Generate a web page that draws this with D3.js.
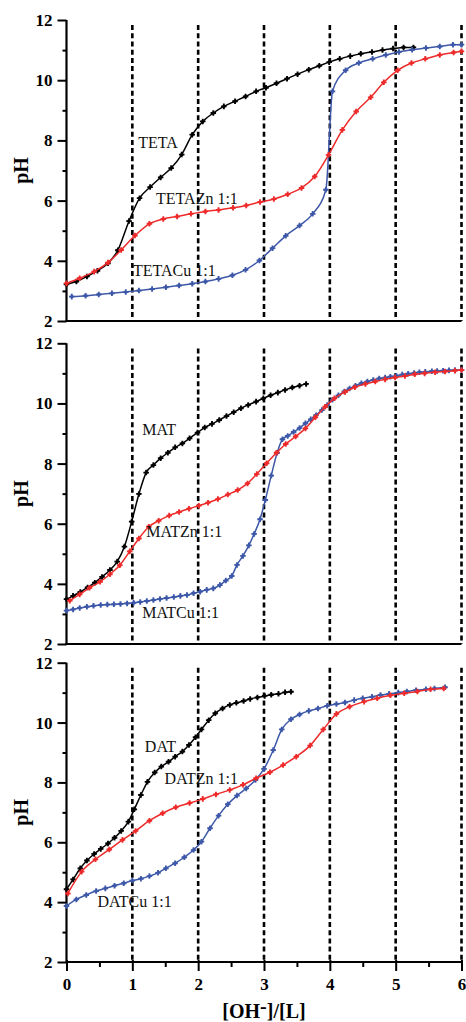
<!DOCTYPE html>
<html><head><meta charset="utf-8">
<script src="https://cdn.jsdelivr.net/npm/d3@7"></script>
<style>body{margin:0;background:#fff}svg{display:block}</style>
</head><body>
<svg id="c" width="466" height="1022"></svg>
<script>
// ---------- DATA ----------
const xTicks = [0,1,2,3,4,5,6];
const yTicks = [2,4,6,8,10,12];
const dashedX = [1,2,3,4,5,6];
const seriesNames = ["TETA","TETAZn 1:1","TETACu 1:1","MAT","MATZn 1:1","MATCu 1:1","DAT","DATZn 1:1","DATCu 1:1"];
const xAxisTitle = "[OH-]/[L]";
const yAxisTitle = "pH";

const tetaX  = [0,0.15,0.31,0.47,0.63,0.78,0.95,1.11,1.27,1.43,1.59,1.75,1.91,2.07,2.23,2.39,2.56,2.72,2.88,3.03,3.19,3.35,3.51,3.68,3.84,3.99,4.15,4.31,4.47,4.64,4.80,4.96,5.12,5.27];
const tetaPH = [3.22,3.31,3.48,3.67,3.92,4.35,5.32,6.08,6.45,6.77,7.08,7.53,8.19,8.63,8.91,9.13,9.30,9.46,9.63,9.75,9.90,10.05,10.20,10.35,10.48,10.60,10.71,10.80,10.88,10.94,11.00,11.05,11.09,11.09];
const tetaZnX  = [0,0.2,0.42,0.63,0.83,1.04,1.26,1.47,1.68,1.89,2.11,2.31,2.53,2.73,2.94,3.15,3.36,3.57,3.77,3.98,4.19,4.40,4.62,4.82,5.03,5.24,5.45,5.67,5.88,6.0];
const tetaZnPH = [3.25,3.42,3.64,3.94,4.36,4.84,5.23,5.39,5.47,5.56,5.64,5.69,5.76,5.84,5.95,6.05,6.21,6.42,6.80,7.52,8.35,8.96,9.43,9.93,10.33,10.57,10.71,10.84,10.92,10.96];
const tetaCuX  = [0.08,0.29,0.49,0.69,0.90,1.10,1.30,1.51,1.71,1.91,2.11,2.31,2.52,2.72,2.93,3.13,3.33,3.54,3.74,3.94,4.04,4.24,4.44,4.65,4.85,5.05,5.25,5.46,5.67,5.87,6.0];
const tetaCuPH = [2.81,2.84,2.88,2.92,2.96,3.01,3.06,3.12,3.18,3.24,3.31,3.40,3.52,3.70,4.01,4.42,4.83,5.17,5.56,6.36,9.63,10.33,10.57,10.71,10.84,10.94,11.01,11.07,11.12,11.18,11.18];

const matX  = [0,0.10,0.21,0.32,0.43,0.54,0.66,0.77,0.88,0.99,1.10,1.21,1.32,1.43,1.54,1.65,1.76,1.87,1.99,2.10,2.21,2.32,2.43,2.54,2.65,2.76,2.88,2.99,3.10,3.21,3.32,3.43,3.54,3.64];
const matPH = [3.49,3.60,3.73,3.88,4.04,4.23,4.46,4.74,5.24,6.07,6.99,7.70,7.95,8.18,8.36,8.54,8.67,8.84,9.03,9.20,9.32,9.45,9.58,9.71,9.84,9.95,10.06,10.17,10.27,10.36,10.45,10.53,10.59,10.65];
const matZnX  = [0.05,0.20,0.35,0.51,0.66,0.81,0.96,1.10,1.25,1.40,1.56,1.71,1.86,2.01,2.15,2.30,2.45,2.60,2.75,2.89,3.04,3.19,3.33,3.48,3.63,3.78,3.93,4.07,4.23,4.38,4.54,4.69,4.84,4.99,5.14,5.29,5.44,5.60,5.75,5.90,6.0];
const matZnPH = [3.44,3.65,3.87,4.07,4.32,4.62,5.08,5.51,5.90,6.10,6.27,6.39,6.50,6.60,6.70,6.82,6.97,7.12,7.34,7.65,8.01,8.36,8.65,8.90,9.17,9.54,9.89,10.17,10.38,10.54,10.65,10.73,10.80,10.86,10.91,10.97,11.00,11.04,11.06,11.09,11.11];
const matCuX  = [0,0.10,0.20,0.31,0.41,0.52,0.62,0.72,0.82,0.92,1.02,1.12,1.22,1.32,1.42,1.52,1.63,1.73,1.83,1.93,2.03,2.13,2.23,2.33,2.42,2.51,2.59,2.68,2.77,2.85,2.94,3.02,3.11,3.20,3.28,3.36,3.45,3.54,3.63,3.71,3.79,3.88,3.96,4.04,4.13,4.22,4.30,4.39,4.48,4.57,4.66,4.75,4.84,4.92,5.01,5.10,5.19,5.28,5.36,5.45,5.55,5.63,5.72,5.81,5.90,6.0];
const matCuPH = [3.11,3.15,3.20,3.24,3.27,3.30,3.31,3.32,3.33,3.35,3.37,3.40,3.43,3.46,3.50,3.53,3.56,3.60,3.63,3.69,3.74,3.80,3.85,3.96,4.11,4.26,4.63,4.93,5.28,5.66,6.15,6.79,7.60,8.36,8.81,8.92,9.05,9.18,9.34,9.47,9.61,9.78,9.95,10.12,10.27,10.40,10.50,10.59,10.67,10.73,10.78,10.83,10.86,10.89,10.92,10.96,10.99,11.01,11.04,11.05,11.07,11.08,11.09,11.10,11.11,11.11];

const datX  = [0,0.10,0.21,0.31,0.42,0.52,0.63,0.73,0.83,0.94,1.03,1.13,1.23,1.34,1.44,1.55,1.65,1.76,1.86,1.96,2.05,2.16,2.26,2.37,2.48,2.58,2.69,2.79,2.90,3.01,3.11,3.22,3.32,3.41];
const datPH = [4.43,4.76,5.13,5.39,5.61,5.78,5.96,6.15,6.38,6.69,7.10,7.58,8.02,8.33,8.53,8.69,8.86,9.03,9.25,9.51,9.77,10.08,10.31,10.47,10.59,10.66,10.72,10.79,10.84,10.89,10.93,10.96,11.01,11.03];
const datZnX  = [0.02,0.23,0.44,0.65,0.85,1.05,1.26,1.46,1.66,1.87,2.07,2.27,2.48,2.68,2.88,3.09,3.29,3.49,3.70,3.90,4.10,4.30,4.52,4.72,4.92,5.13,5.33,5.53,5.73];
const datZnPH = [4.29,5.02,5.43,5.76,6.08,6.38,6.72,6.97,7.17,7.31,7.45,7.60,7.75,7.92,8.14,8.34,8.58,8.86,9.23,9.77,10.29,10.53,10.70,10.81,10.91,10.98,11.04,11.11,11.14];
const datCuX  = [0,0.15,0.30,0.45,0.59,0.73,0.87,1.00,1.13,1.26,1.39,1.51,1.65,1.79,1.93,2.05,2.18,2.31,2.45,2.59,2.73,2.87,3.00,3.14,3.27,3.41,3.54,3.68,3.82,3.96,4.10,4.23,4.37,4.50,4.64,4.77,4.90,5.04,5.17,5.31,5.46,5.59,5.75];
const datCuPH = [3.87,4.09,4.24,4.37,4.46,4.55,4.63,4.72,4.78,4.87,4.98,5.13,5.30,5.50,5.74,6.02,6.47,6.89,7.27,7.56,7.80,8.08,8.45,9.08,9.77,10.11,10.27,10.39,10.47,10.56,10.62,10.67,10.75,10.81,10.86,10.92,10.96,11.00,11.04,11.08,11.11,11.14,11.18];

// label anchor positions in data units [x, pH]
const labelPos = [[1.09,7.76],[1.36,5.89],[1.01,3.50],[1.15,8.95],[1.21,5.57],[1.15,2.86],[1.19,9.03],[1.49,7.95],[0.47,3.84]];

// ---------- DRAW ----------
const colors = {black:"#000000", red:"#ee2a2a", blue:"#3d58a8"};
const svg = d3.select("#c");
const serif = "Liberation Serif, Times New Roman, Times, serif";

const panels = [
  {top:20, bottom:321, data:[[tetaX,tetaPH,"black"],[tetaCuX,tetaCuPH,"blue"],[tetaZnX,tetaZnPH,"red"]], names:[0,1,2], xAxis:false},
  {top:343.3, bottom:644, data:[[matX,matPH,"black"],[matCuX,matCuPH,"blue"],[matZnX,matZnPH,"red"]], names:[3,4,5], xAxis:false},
  {top:662.7, bottom:962, data:[[datX,datPH,"black"],[datCuX,datCuPH,"blue"],[datZnX,datZnPH,"red"]], names:[6,7,8], xAxis:true}
];

const x = d3.scaleLinear().domain([0,6]).range([66.5,461.5]);

panels.forEach(p => {
  const y = d3.scaleLinear().domain([2,12]).range([p.bottom,p.top]);
  const g = svg.append("g");

  // dashed verticals
  g.selectAll("line.dash").data(dashedX).join("line")
    .attr("x1",d=>x(d)).attr("x2",d=>x(d))
    .attr("y1",y(11.83)).attr("y2",y(2))
    .attr("stroke","#000").attr("stroke-width",2.6).attr("stroke-dasharray","5,3.2");

  // y axis
  const ya = d3.axisLeft(y).tickValues(yTicks).tickSize(9).tickPadding(5).tickFormat(d3.format("d"));
  const yg = g.append("g").attr("transform",`translate(${x(0)},0)`).call(ya);
  yg.select(".domain").attr("stroke-width",2.2).attr("d",`M0,${y(12)}V${y(2)}`);
  yg.selectAll(".tick line").attr("stroke-width",2);
  yg.selectAll(".tick text").attr("font-family",serif).attr("font-weight","bold").attr("font-size",17).attr("fill","#000");
  const ym = d3.axisLeft(y).tickValues([3,5,7,9,11]).tickSize(4).tickFormat("");
  const ymg = g.append("g").attr("transform",`translate(${x(0)},0)`).call(ym);
  ymg.select(".domain").remove();
  ymg.selectAll(".tick line").attr("stroke-width",2);

  // x axis line
  if (p.xAxis) {
    const xa = d3.axisBottom(x).tickValues(xTicks).tickSize(9).tickPadding(7).tickFormat(d3.format("d"));
    const xg = g.append("g").attr("transform",`translate(0,${y(2)})`).call(xa);
    xg.select(".domain").attr("stroke-width",2.2).attr("d",`M${x(0)},0H${x(6)}`);
    xg.selectAll(".tick line").attr("stroke-width",2).attr("y1",-2);
    xg.selectAll(".tick text").attr("font-family",serif).attr("font-weight","bold").attr("font-size",17).attr("fill","#000");
    const xm = d3.axisBottom(x).tickValues([0.5,1.5,2.5,3.5,4.5,5.5]).tickSize(5).tickFormat("");
    const xmg = g.append("g").attr("transform",`translate(0,${y(2)})`).call(xm);
    xmg.select(".domain").remove();
    xmg.selectAll(".tick line").attr("stroke-width",2);
  } else {
    g.append("line").attr("x1",x(0)-1).attr("x2",x(6)).attr("y1",y(2)).attr("y2",y(2))
      .attr("stroke","#000").attr("stroke-width",2.2);
  }

  // series
  const line = d3.line().x(d=>x(d[0])).y(d=>y(d[1])).curve(d3.curveMonotoneX);
  const sym = d3.symbol().type(d3.symbolCross).size(17);
  p.data.forEach(([xs,ys,c]) => {
    const pts = xs.map((v,i)=>[v,ys[i]]);
    g.append("path").datum(pts).attr("d",line).attr("fill","none")
      .attr("stroke",colors[c]).attr("stroke-width",1.5);
    const m = g.selectAll(null).data(pts).join("g")
      .attr("transform",d=>`translate(${x(d[0])},${y(d[1])})`).attr("fill",colors[c]);
    m.append("path").attr("d",sym);
    m.append("circle").attr("r",1.7);
  });

  // series labels
  p.names.forEach(i => {
    g.append("text").attr("x",x(labelPos[i][0])).attr("y",y(labelPos[i][1]))
      .attr("font-family",serif).attr("font-size",16).attr("fill","#111")
      .text(seriesNames[i]);
  });

  // pH title
  g.append("text").attr("transform",`translate(28,${(p.top+p.bottom)/2}) rotate(-90)`)
    .attr("text-anchor","middle").attr("font-family",serif).attr("font-weight","bold")
    .attr("font-size",20).text(yAxisTitle);
});

// x axis title
const t = svg.append("text").attr("x",x(3)).attr("y",1018).attr("text-anchor","middle")
  .attr("font-family",serif).attr("font-weight","bold").attr("font-size",20);
t.append("tspan").text("[OH");
t.append("tspan").attr("dy",-5).text("-");
t.append("tspan").attr("dy",5).text("]/[L]");
</script>
</body></html>
